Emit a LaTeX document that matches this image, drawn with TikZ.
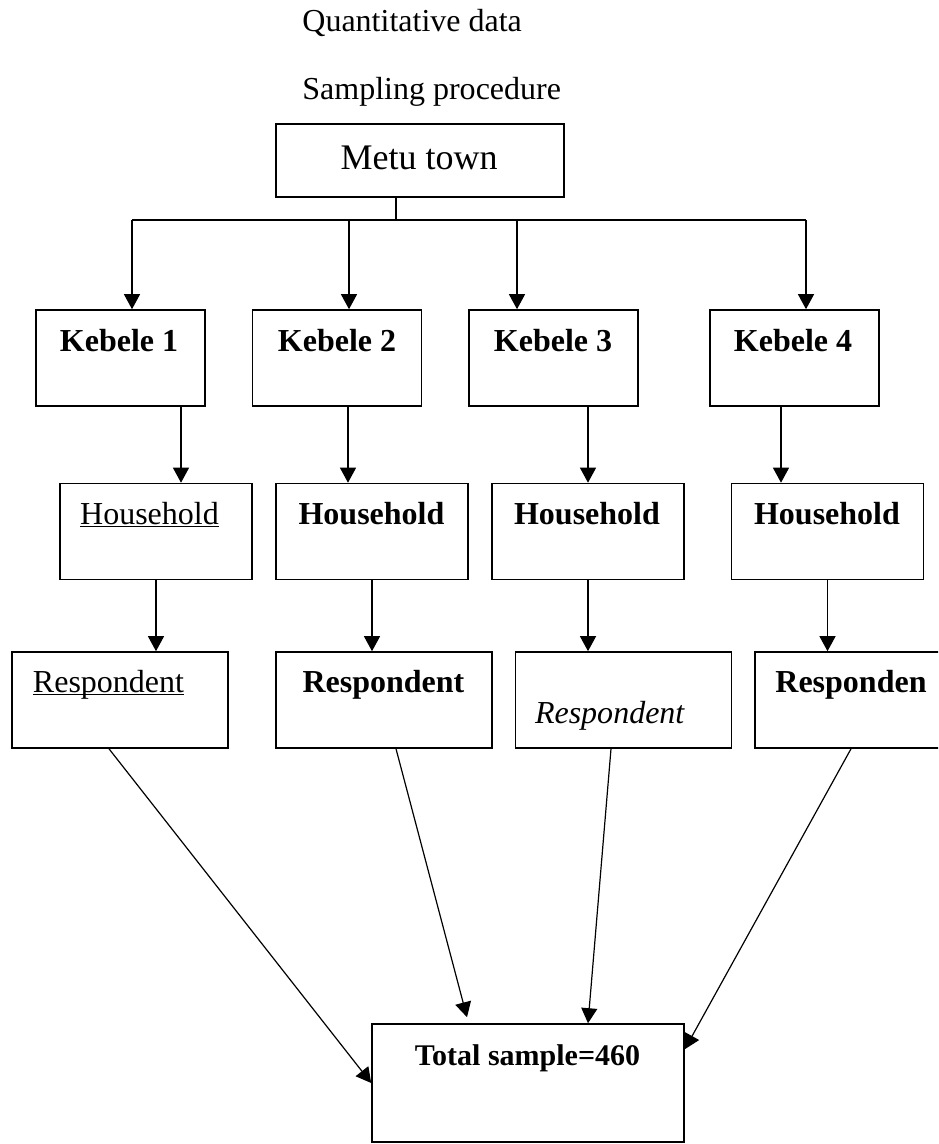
\documentclass[tikz,border=0pt]{standalone}
\usepackage{fontspec}
\setmainfont{Liberation Serif}
\usetikzlibrary{arrows.meta}

\newcommand{\ulword}[1]{\underline{\smash{#1}}}

\tikzset{
  box/.style={draw, line width=0.8pt, inner sep=0pt},
  link/.style={line width=0.6pt},
  arr/.style={link, -{Triangle[length=7.5pt,width=8pt]}},
  lbl/.style={anchor=base, inner sep=0pt, font=\fontsize{16}{19}\selectfont},
  title/.style={anchor=base west, inner sep=0pt, font=\fontsize{16}{19}\selectfont},
}

\begin{document}
\begin{tikzpicture}[x=0.5pt, y=-0.5pt]
  \clip (0,0) rectangle (938,1144);

  % Titulos
  \node[title] (qdata) at (302,32) {Quantitative data};
  \node[title] (sproc) at (302,100) {Sampling procedure};

  % Cidade
  \node[box, minimum width=144pt, minimum height=36.5pt] (metu) at (420,160.5) {};
  \node[lbl, font=\fontsize{18}{22}\selectfont] (metutxt) at (419,170) {Metu town};

  % Kebeles
  \node[box, minimum width=84.5pt, minimum height=48pt] (k1) at (120.5,358) {};
  \node[box, minimum width=84.5pt, minimum height=48pt] (k2) at (337,358) {};
  \node[box, minimum width=84.5pt, minimum height=48pt] (k3) at (553.5,358) {};
  \node[box, minimum width=84.5pt, minimum height=48pt] (k4) at (794.5,358) {};
  \node[lbl] (k1txt) at (119,351) {\textbf{Kebele 1}};
  \node[lbl] (k2txt) at (337,351) {\textbf{Kebele 2}};
  \node[lbl] (k3txt) at (553,351) {\textbf{Kebele 3}};
  \node[lbl] (k4txt) at (793,351) {\textbf{Kebele 4}};

  % Households
  \node[box, minimum width=96pt, minimum height=48pt] (h1) at (156,531.5) {};
  \node[box, minimum width=96pt, minimum height=48pt] (h2) at (372,531.5) {};
  \node[box, minimum width=96pt, minimum height=48pt] (h3) at (588,531.5) {};
  \node[box, minimum width=96pt, minimum height=48pt] (h4) at (827.5,531.5) {};
  \node[lbl] (h1txt) at (149.5,524) {\ulword{Household}};
  \node[lbl] (h2txt) at (371.5,524) {\textbf{Household}};
  \node[lbl] (h3txt) at (587,524) {\textbf{Household}};
  \node[lbl] (h4txt) at (827,524) {\textbf{Household}};

  % Respondentes
  \node[box, minimum width=108pt, minimum height=48pt] (r1) at (120,700) {};
  \node[box, minimum width=108pt, minimum height=48pt] (r2) at (384,700) {};
  \node[box, minimum width=108pt, minimum height=48pt] (r3) at (623.5,700) {};
  \node[box, minimum width=108pt, minimum height=48pt] (r4) at (863,700) {};
  \node[lbl] (r1txt) at (108.5,692) {\ulword{Respondent}};
  \node[lbl] (r2txt) at (383.5,692) {\textbf{Respondent}};
  \node[lbl] (r3txt) at (610,723) {\textit{Respondent}};
  \node[lbl] (r4txt) at (851,692) {\textbf{Responden}};

  % Total
  \node[box, minimum width=156pt, minimum height=59pt] (total) at (528,1083) {};
  \node[lbl, font=\fontsize{15}{18}\selectfont] (totaltxt) at (527.5,1065) {\textbf{Total sample=460}};

  % Ligacoes da cidade aos kebeles
  \coordinate (hub) at (396,220);
  \coordinate (b1) at (132,220);
  \coordinate (b2) at (349,220);
  \coordinate (b3) at (517,220);
  \coordinate (b4) at (806,220);
  \draw[link] (metu.south -| hub) -- (hub);
  \draw[link] (b1) -- (b4);
  \foreach \i in {1,...,4}
    \draw[arr] (b\i) -- (b\i |- k\i.north);

  % Kebeles aos households
  \foreach \i/\x in {1/181, 2/348, 3/588, 4/781}
    \coordinate (kd\i) at (\x,0);
  \foreach \i in {1,...,4}
    \draw[arr] (kd\i |- k\i.south) -- (kd\i |- h\i.north);

  % Households aos respondentes
  \foreach \i in {1,...,4}
    \draw[arr] (h\i.south) -- (h\i.south |- r\i.north);

  % Respondentes ao total
  \foreach \i/\x in {1/109, 2/396, 3/611, 4/851}
    \coordinate (rd\i) at (\x,0);
  \draw[arr] (rd1 |- r1.south) -- (total.west);
  \draw[arr] (rd2 |- r2.south) -- ([xshift=-30.5pt,yshift=3pt]total.north);
  \draw[arr] (rd3 |- r3.south) -- ([xshift=30pt]total.north);
  \draw[arr] (rd4 |- r4.south) -- ([yshift=-13pt]total.north east);
\end{tikzpicture}
\end{document}
